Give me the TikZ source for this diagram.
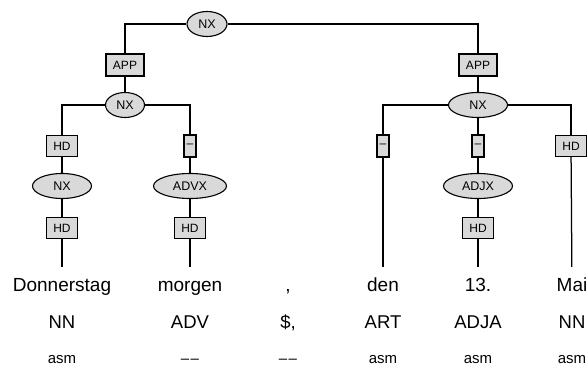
\documentclass[tikz,border=0pt]{standalone}
\usepackage{fontspec}
\setmainfont{Liberation Sans}
\usetikzlibrary{shapes.geometric}

\tikzset{
  catnode/.style={ellipse, draw=black, fill=black!15, line width=1.1pt, inner sep=0pt, minimum height=25, font=\fontsize{12.5}{14}\selectfont},
  funcbox/.style={rectangle, draw=black, fill=black!15, line width=1.1pt, inner sep=0pt, minimum height=21, font=\fontsize{12}{14}\selectfont},
  wordnode/.style={anchor=base, inner xsep=0pt, inner ysep=9pt, text height=15pt, text depth=5pt, font=\fontsize{19}{22}\selectfont},
  posnode/.style={anchor=base, inner sep=0pt, font=\fontsize{18.5}{22}\selectfont},
  morphnode/.style={anchor=base, inner sep=0pt, font=\fontsize{15}{18}\selectfont},
  link/.style={draw=black, line width=1.25pt}
}
\newcommand{\nomorph}{\textendash\kern1.5pt\textendash}

\begin{document}
\begin{tikzpicture}[x=1pt,y=-1pt]
\useasboundingbox (0,0) rectangle (587,367);
\node[catnode, minimum width=40] (nxtop) at (207,24) {NX};
\node[funcbox, minimum width=38, minimum height=22] (appl) at (125,65) {APP};
\node[funcbox, minimum width=38, minimum height=22] (appr) at (478,65) {APP};
\node[catnode, minimum width=39] (nxl) at (125,105) {NX};
\node[catnode, minimum width=59] (nxr) at (478,105) {NX};
\node[funcbox, minimum width=31] (hdnx) at (62,146) {HD};
\node[funcbox, minimum width=12, minimum height=22] (dadvx) at (190,146) {--};
\node[funcbox, minimum width=12, minimum height=22] (dart) at (383,146) {--};
\node[funcbox, minimum width=12, minimum height=22] (dadjx) at (478,146) {--};
\node[funcbox, minimum width=31] (hdmai) at (571,146) {HD};
\node[catnode, minimum width=59] (nxd) at (62,186) {NX};
\node[catnode, minimum width=73] (advx) at (190,186) {ADVX};
\node[catnode, minimum width=69] (adjx) at (478,186) {ADJX};
\node[funcbox, minimum width=31] (hdd) at (62,228) {HD};
\node[funcbox, minimum width=31] (hdm) at (190,228) {HD};
\node[funcbox, minimum width=31] (hd13) at (478,228) {HD};

\node[wordnode] (w1) at (62,291) {Donnerstag};
\node[wordnode] (w2) at (190,291) {morgen};
\node[wordnode] (w3) at (288,291) {,};
\node[wordnode] (w4) at (383,291) {den};
\node[wordnode] (w5) at (478,291) {13.};
\node[wordnode] (w6) at (572,291) {Mai};

\node[posnode] (p1) at (62,328) {NN};
\node[posnode] (p2) at (190,328) {ADV};
\node[posnode] (p3) at (288,328) {\$,};
\node[posnode] (p4) at (383,328) {ART};
\node[posnode] (p5) at (478,328) {ADJA};
\node[posnode] (p6) at (572,328) {NN};

\node[morphnode] (m1) at (62,363) {asm};
\node[morphnode] (m2) at (190,363) {\nomorph};
\node[morphnode] (m3) at (288,363) {\nomorph};
\node[morphnode] (m4) at (383,363) {asm};
\node[morphnode] (m5) at (478,363) {asm};
\node[morphnode] (m6) at (572,363) {asm};

\draw[link] (nxtop.west) -| (appl.north);
\draw[link] (nxtop.east) -| (appr.north);
\draw[link] (appl) -- (nxl);
\draw[link] (appr) -- (nxr);
\draw[link] (nxl.west) -| (hdnx.north);
\draw[link] (nxl.east) -| (dadvx.north);
\draw[link] (nxr.west) -| (dart.north);
\draw[link] (nxr) -- (dadjx);
\draw[link] (nxr.east) -| (hdmai.north);
\draw[link] (hdnx) -- (nxd);
\draw[link] (nxd) -- (hdd);
\draw[link] (hdd) -- (w1);
\draw[link] (dadvx) -- (advx);
\draw[link] (advx) -- (hdm);
\draw[link] (hdm) -- (w2);
\draw[link] (dart) -- (w4);
\draw[link] (dadjx) -- (adjx);
\draw[link] (adjx) -- (hd13);
\draw[link] (hd13) -- (w5);
\draw[link] (hdmai) -- (w6);
\end{tikzpicture}
\end{document}
